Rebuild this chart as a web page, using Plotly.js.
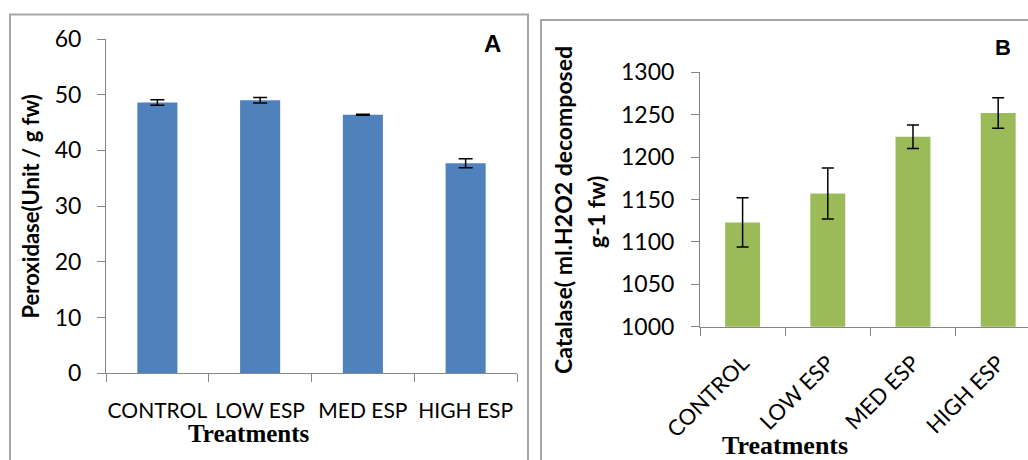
<!DOCTYPE html>
<html>
<head>
<meta charset="utf-8">
<script src="https://cdn.plot.ly/plotly-3.0.1.min.js"></script>
<style>html,body{margin:0;padding:0;background:#fff;}#chart{width:1028px;height:460px;}</style>
</head>
<body>
<div id="chart"></div>
<script>
// Data
var treatments = ["CONTROL", "LOW ESP", "MED ESP", "HIGH ESP"];
var peroxidase = [48.6, 49.0, 46.4, 37.7];
var peroxidaseErr = [0.5, 0.5, 0.1, 0.8];
var catalase = [1123, 1157, 1224, 1252];
var catalaseErr = [29, 30, 14, 18];

var W = 1028, H = 460;
function px(x){ return x / W; }
function py(y){ return 1 - y / H; }

var tickFont = {family: "Lato, 'Open Sans', sans-serif", size: 23, color: "#000"};
var axisLine = "#868686";

var traces = [
  {
    type: "bar", x: treatments, y: peroxidase, xaxis: "x", yaxis: "y",
    width: 0.39,
    marker: {color: "#4F81BD"},
    error_y: {type: "data", array: peroxidaseErr, visible: true, color: "#000", thickness: 1.5, width: 7},
    hoverinfo: "x+y"
  },
  {
    type: "bar", x: treatments, y: catalase, xaxis: "x2", yaxis: "y2",
    width: 0.41,
    marker: {color: "#9BBB59"},
    error_y: {type: "data", array: catalaseErr, visible: true, color: "#000", thickness: 1.5, width: 6},
    hoverinfo: "x+y"
  }
];

var layout = {
  width: W, height: H,
  margin: {l: 0, r: 0, t: 0, b: 0, pad: 0},
  paper_bgcolor: "#fff",
  plot_bgcolor: "rgba(0,0,0,0)",
  showlegend: false,
  xaxis: {
    domain: [px(106), px(517)], anchor: "y", type: "category",
    range: [-0.5, 3.5],
    showline: true, linecolor: axisLine, linewidth: 1,
    ticks: "outside", ticklen: 8, tickcolor: axisLine, tickson: "boundaries",
    tickangle: 0, tickfont: {family: "Lato, 'Open Sans', sans-serif", size: 21, color: "#000"},
    ticklabelstandoff: 18, showgrid: false, fixedrange: true
  },
  yaxis: {
    domain: [py(373.3), py(39)], anchor: "x",
    range: [0, 60], dtick: 10, tick0: 0,
    showline: true, linecolor: axisLine, linewidth: 1,
    ticks: "outside", ticklen: 8, tickcolor: axisLine,
    tickfont: tickFont, ticklabelstandoff: 11, showgrid: false, zeroline: false
  },
  xaxis2: {
    domain: [px(700), 1], anchor: "y2", type: "category",
    range: [-0.5, 3.35],
    showline: true, linecolor: axisLine, linewidth: 1,
    ticks: "outside", ticklen: 8, tickcolor: axisLine, tickson: "boundaries",
    tickangle: -45, tickfont: {family: "Lato, 'Open Sans', sans-serif", size: 22, color: "#000"},
    ticklabelstandoff: 14, showgrid: false
  },
  yaxis2: {
    domain: [py(326.7), py(72.3)], anchor: "x2",
    range: [1000, 1300], dtick: 50, tick0: 1000,
    showline: true, linecolor: axisLine, linewidth: 1,
    ticks: "outside", ticklen: 8, tickcolor: axisLine,
    tickfont: tickFont, ticklabelstandoff: 12, showgrid: false, zeroline: false
  },
  shapes: [
    {type: "rect", xref: "paper", yref: "paper", x0: px(10), x1: px(528), y0: -0.1, y1: py(14.5),
     line: {color: "#a6a6a6", width: 2}, fillcolor: "rgba(0,0,0,0)", layer: "below"},
    {type: "rect", xref: "paper", yref: "paper", x0: px(541), x1: 1.1, y0: -0.1, y1: py(20),
     line: {color: "#a6a6a6", width: 2}, fillcolor: "rgba(0,0,0,0)", layer: "below"}
  ],
  annotations: [
    {text: "<b>A</b>", xref: "paper", yref: "paper", x: px(492), y: py(43), xanchor: "center", yanchor: "middle",
     showarrow: false, font: {family: "Liberation Sans, Arial, sans-serif", size: 24, color: "#000"}},
    {text: "<b>B</b>", xref: "paper", yref: "paper", x: px(1003), y: py(48), xanchor: "center", yanchor: "middle",
     showarrow: false, font: {family: "Liberation Sans, Arial, sans-serif", size: 22, color: "#000"}},
    {text: "<b>Peroxidase(Unit / g fw)</b>", xref: "paper", yref: "paper", x: px(30), y: py(206.5),
     xanchor: "center", yanchor: "middle", textangle: -90, showarrow: false,
     font: {family: "Lato, 'Open Sans', sans-serif", size: 22, color: "#000"}},
    {text: "<b>Catalase( ml.H2O2 decomposed</b>", xref: "paper", yref: "paper", x: px(563), y: py(210),
     xanchor: "center", yanchor: "middle", textangle: -90, showarrow: false,
     font: {family: "Lato, 'Open Sans', sans-serif", size: 23, color: "#000"}},
    {text: "<b>g-1 fw)</b>", xref: "paper", yref: "paper", x: px(596), y: py(212),
     xanchor: "center", yanchor: "middle", textangle: -90, showarrow: false,
     font: {family: "Lato, 'Open Sans', sans-serif", size: 23, color: "#000"}},
    {text: "<b>Treatments</b>", xref: "paper", yref: "paper", x: px(249), y: py(433),
     xanchor: "center", yanchor: "middle", showarrow: false,
     font: {family: "Liberation Serif, 'Times New Roman', serif", size: 25, color: "#000"}},
    {text: "<b>Treatments</b>", xref: "paper", yref: "paper", x: px(785), y: py(445),
     xanchor: "center", yanchor: "middle", showarrow: false,
     font: {family: "Liberation Serif, 'Times New Roman', serif", size: 26, color: "#000"}}
  ]
};

Plotly.newPlot("chart", traces, layout, {displayModeBar: false, staticPlot: true});
</script>
</body>
</html>
